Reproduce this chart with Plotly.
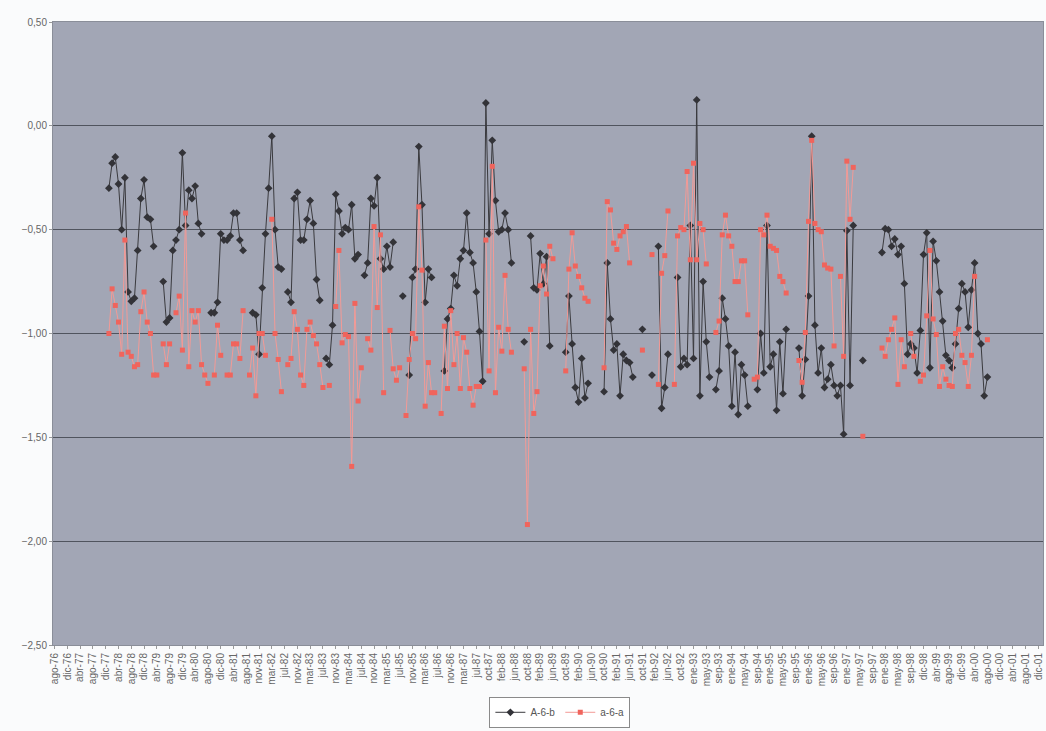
import plotly.graph_objects as go

# Monthly category slots; ticks every 4th slot
N_SLOTS = 309
N = None

tick_labels = [
    "ago-76", "dic-76", "abr-77", "ago-77", "dic-77", "abr-78", "ago-78", "dic-78",
    "abr-79", "ago-79", "dic-79", "abr-80", "ago-80", "dic-80", "abr-81", "ago-81",
    "nov-81", "mar-82", "jul-82", "nov-82", "mar-83", "jul-83", "nov-83", "mar-84",
    "jul-84", "nov-84", "mar-85", "jul-85", "nov-85", "mar-86", "jul-86", "nov-86",
    "mar-87", "jul-87", "oct-87", "feb-88", "jun-88", "oct-88", "feb-89", "jun-89",
    "oct-89", "feb-90", "jun-90", "oct-90", "feb-91", "jun-91", "oct-91", "feb-92",
    "jun-92", "oct-92", "ene-93", "may-93", "sep-93", "ene-94", "may-94", "sep-94",
    "ene-95", "may-95", "sep-95", "ene-96", "may-96", "sep-96", "ene-97", "may-97",
    "sep-97", "ene-98", "may-98", "sep-98", "dic-98", "abr-99", "ago-99", "dic-99",
    "abr-00", "ago-00", "dic-00", "abr-01", "ago-01", "dic-01",
]

# Series A-6-b (one value per slot, None = no observation)
a6b = [
    N, N, N, N, N, N, N, N, N, N,
    N, N, N, N, N, N, N, -0.30, -0.18, -0.15,
    -0.28, -0.50, -0.25, -0.80, -0.845, -0.83, -0.60, -0.35, -0.26, -0.44,
    -0.45, -0.58, N, N, -0.75, -0.945, -0.925, -0.60, -0.55, -0.50,
    -0.13, -0.48, -0.31, -0.35, -0.29, -0.47, -0.52, N, N, -0.90,
    -0.90, -0.85, -0.52, -0.55, -0.55, -0.53, -0.42, -0.42, -0.55, -0.60,
    N, N, -0.90, -0.91, -1.10, -0.78, -0.52, -0.30, -0.05, -0.50,
    -0.68, -0.69, N, -0.80, -0.85, -0.35, -0.32, -0.55, -0.55, -0.45,
    -0.36, -0.47, -0.74, -0.84, N, -1.12, -1.15, -0.96, -0.33, -0.41,
    -0.52, -0.49, -0.50, -0.38, -0.64, -0.62, N, -0.72, -0.66, -0.35,
    -0.385, -0.25, -0.64, -0.69, -0.58, -0.68, -0.56, N, N, -0.82,
    N, -1.20, -0.73, -0.69, -0.10, -0.38, -0.85, -0.69, -0.73, N,
    N, N, -1.18, -0.93, -0.88, -0.72, -0.77, -0.64, -0.60, -0.42,
    -0.61, -0.66, -0.80, -0.99, -1.23, 0.11, -0.52, -0.07, -0.36, -0.51,
    -0.50, -0.42, -0.50, -0.66, N, N, N, -1.04, N, -0.53,
    -0.78, -0.79, -0.615, -0.76, -0.63, -1.06, N, N, N, N,
    -1.09, -0.82, -1.05, -1.26, -1.33, -1.12, -1.31, -1.24, N, N,
    N, N, -1.28, -0.66, -0.93, -1.08, -1.05, -1.30, -1.10, -1.13,
    -1.14, -1.21, N, N, -0.98, N, N, -1.20, N, -0.58,
    -1.36, -1.26, -1.10, N, N, -0.73, -1.16, -1.12, -1.15, -0.48,
    -1.12, 0.125, -1.30, -0.75, -1.04, -1.21, N, -1.27, -1.18, -0.83,
    -0.93, -1.06, -1.35, -1.09, -1.39, -1.15, -1.20, -1.35, N, N,
    -1.27, -1.00, -1.19, -0.48, -1.16, -1.10, -1.37, -1.04, -1.29, -0.98,
    N, N, N, -1.07, -1.30, -1.125, -0.82, -0.05, -0.96, -1.19,
    -1.07, -1.26, -1.22, -1.15, -1.25, -1.30, -1.25, -1.485, -0.505, -1.25,
    -0.48, N, N, -1.13, N, N, N, N, N, -0.61,
    -0.495, -0.50, -0.58, -0.545, -0.62, -0.58, -0.76, -1.10, -1.05, -1.07,
    -1.19, -0.985, -0.62, -0.515, -1.165, -0.556, -0.65, -0.80, -0.94, -1.105,
    -1.13, -1.165, -1.05, -0.88, -0.76, -0.80, -0.97, -0.79, -0.66, -1.00,
    -1.05, -1.30, -1.21, N, N, N, N, N, N, N,
    N, N, N, N, N, N, N, N, N,
]

# Series a-6-a
a6a = [
    N, N, N, N, N, N, N, N, N, N,
    N, N, N, N, N, N, N, -1.00, -0.785, -0.865,
    -0.945, -1.10, -0.55, -1.09, -1.11, -1.16, -1.15, -0.895, -0.80, -0.945,
    -1.00, -1.20, -1.20, N, -1.05, -1.15, -1.05, N, -0.90, -0.82,
    -1.08, -0.42, -1.16, -0.89, -0.945, -0.89, -1.15, -1.20, -1.24, N,
    -1.20, -0.96, -1.105, N, -1.20, -1.20, -1.05, -1.05, -1.12, -0.89,
    N, -1.20, -1.07, -1.30, -1.00, -1.00, -1.105, N, -0.45, -1.00,
    -1.125, -1.28, N, -1.15, -1.12, -0.895, -0.98, -1.20, -1.25, -0.98,
    -0.945, -1.01, -1.05, -1.15, -1.26, N, -1.25, N, -0.87, -0.60,
    -1.045, -1.005, -1.015, -1.64, -0.855, -1.325, -1.165, N, -1.025, -1.08,
    -0.485, -0.875, -0.525, -1.285, N, -0.985, -1.17, -1.225, -1.165, N,
    -1.395, -1.125, -1.00, -1.025, -0.39, -0.695, -1.35, -1.14, -1.285, -1.285,
    N, -1.385, -0.965, -1.265, -0.89, -1.15, -1.00, -1.265, -1.02, -1.09,
    -1.265, -1.345, -1.255, -1.255, N, -0.55, -1.18, -0.195, -1.285, -0.97,
    -1.085, -0.72, -0.98, -1.09, N, N, N, -1.17, -1.92, -0.98,
    -1.385, -1.28, -0.77, -0.675, -0.81, -0.58, -0.64, N, N, N,
    -1.18, -0.69, -0.515, -0.675, -0.725, -0.78, -0.83, -0.845, N, N,
    N, N, -1.165, -0.365, -0.405, -0.565, -0.595, -0.53, -0.51, -0.485,
    -0.66, N, N, N, -1.08, N, N, -0.62, N, -1.245,
    -0.71, -0.625, -0.41, N, -1.245, -0.53, -0.49, -0.50, -0.22, -0.645,
    -0.18, -0.645, -0.47, -0.50, -0.665, N, N, -0.995, -0.94, -0.525,
    -0.43, -0.53, -0.58, -0.75, -0.75, -0.65, -0.65, -0.91, N, -1.22,
    -1.21, -0.50, -0.525, -0.43, -0.58, -0.59, -0.60, -0.725, -0.75, -0.805,
    N, N, N, -1.13, -1.235, -0.995, -0.46, -0.07, -0.47, -0.50,
    -0.51, -0.67, -0.685, -0.69, -1.06, N, -0.725, -1.11, -0.17, -0.45,
    -0.20, N, N, -1.495, N, N, N, N, N, -1.07,
    -1.11, -1.03, -0.98, -0.925, -1.245, -1.03, -1.16, N, -1.00, -1.11,
    N, -1.23, -1.20, -0.915, -0.60, -0.93, -1.005, -1.255, -1.16, -1.22,
    -1.25, -1.255, -1.00, -0.98, -1.105, -1.14, -1.255, -1.105, -0.725, N,
    N, N, -1.03, N, N, N, N, N, N, N,
    N, N, N, N, N, N, N, N, N,
]

slots = list(range(N_SLOTS))
tick_pos = list(range(0, len(tick_labels) * 4, 4))

FONT = "Liberation Sans, Arial, sans-serif"

fig = go.Figure()
fig.add_trace(go.Scatter(
    x=slots, y=a6b, name="A-6-b", mode="lines+markers",
    line=dict(color="#3a3a3e", width=1),
    marker=dict(symbol="diamond", size=6, color="#333338"),
    connectgaps=False,
))
fig.add_trace(go.Scatter(
    x=slots, y=a6a, name="a-6-a", mode="lines+markers",
    line=dict(color="#f39a96", width=1),
    marker=dict(symbol="square", size=5, color="#f0645c"),
    connectgaps=False,
))

fig.update_layout(
    width=1046, height=731,
    margin=dict(l=53, r=3, t=22, b=86),
    paper_bgcolor="#fafbfc",
    plot_bgcolor="#a2a6b5",
    separators=",.",
    font=dict(family=FONT, size=10, color="#666666"),
    showlegend=True,
    legend=dict(
        orientation="h", x=0.512, xanchor="center", y=-0.108, yanchor="middle",
        bgcolor="#ffffff", bordercolor="#8a8a8a", borderwidth=1,
        font=dict(family=FONT, size=10, color="#555555"),
        itemwidth=30, tracegroupgap=0,
    ),
    xaxis=dict(
        range=[-0.5, N_SLOTS + 0.4],
        tickmode="array", tickvals=tick_pos, ticktext=tick_labels,
        tickangle=-90, tickfont=dict(family=FONT, size=10, color="#666666"),
        ticks="outside", ticklen=3, tickcolor="#9a9a9a",
        showgrid=False, zeroline=False,
        showline=True, linecolor="#8a8e99", linewidth=1, mirror=True,
    ),
    yaxis=dict(
        range=[-2.5, 0.5], tickvals=[-2.5, -2.0, -1.5, -1.0, -0.5, 0.0, 0.5],
        tickformat=".2f", tickfont=dict(family=FONT, size=10, color="#666666"),
        ticks="outside", ticklen=3, tickcolor="#9a9a9a",
        showgrid=True, gridcolor="#50545e", gridwidth=1,
        zeroline=False,
        showline=True, linecolor="#8a8e99", linewidth=1, mirror=True,
    ),
)

fig.write_html("out.html")
